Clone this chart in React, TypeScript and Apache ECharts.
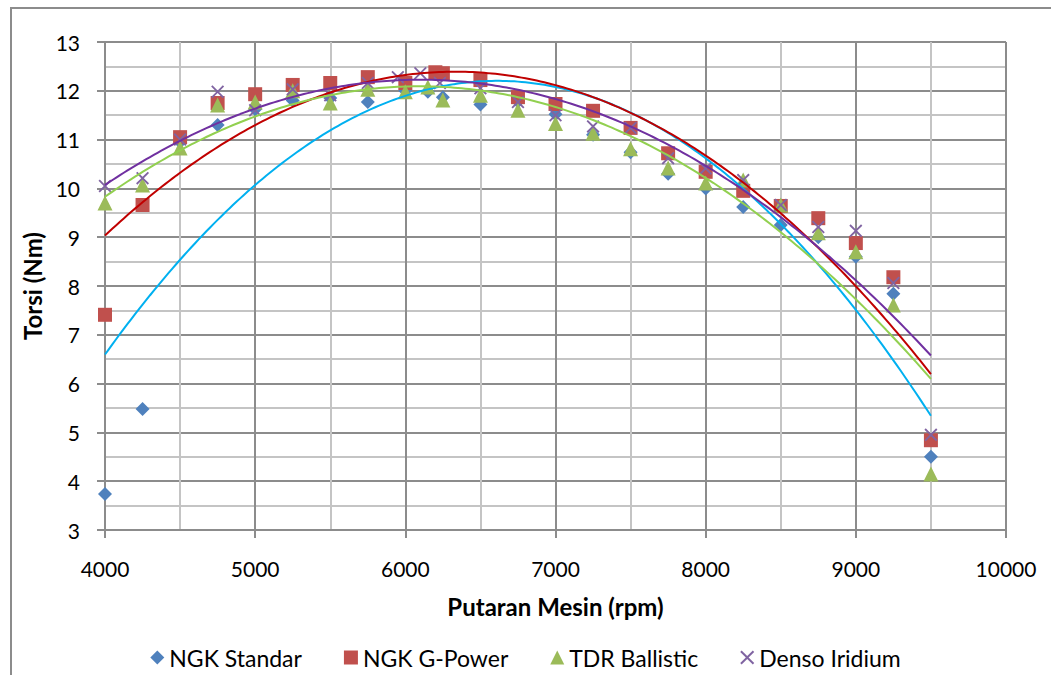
import React, { useEffect, useRef } from "react";
import * as echarts from "echarts";

// ---- Data ----
const rpmStd = [4000, 4250, 4500, 4750, 5000, 5250, 5500, 5750, 6000, 6150, 6250, 6500, 6750, 7000, 7250, 7500, 7750, 8000, 8250, 8500, 8750, 9000, 9250, 9500];
const ngkStandar = [3.74, 5.48, 10.95, 11.3, 11.62, 11.8, 11.85, 11.77, 12.0, 11.98, 11.87, 11.72, 11.78, 11.52, 11.1, 10.74, 10.3, 10.0, 9.62, 9.25, 9.0, 8.6, 7.84, 4.5];

const rpmGPower = [4000, 4250, 4500, 4750, 5000, 5250, 5500, 5750, 6000, 6200, 6250, 6500, 6750, 7000, 7250, 7500, 7750, 8000, 8250, 8500, 8750, 9000, 9250, 9500];
const ngkGPower = [7.41, 9.66, 11.05, 11.75, 11.93, 12.12, 12.16, 12.28, 12.16, 12.38, 12.36, 12.22, 11.87, 11.73, 11.59, 11.24, 10.72, 10.34, 9.95, 9.64, 9.39, 8.88, 8.18, 4.84];

const rpmTdr = [4000, 4250, 4500, 4750, 5000, 5250, 5500, 5750, 6000, 6150, 6250, 6500, 6750, 7000, 7250, 7500, 7750, 8000, 8250, 8500, 8750, 9000, 9250, 9500];
const tdrBallistic = [9.7, 10.07, 10.83, 11.71, 11.77, 12.0, 11.75, 12.03, 11.98, 12.08, 11.81, 11.91, 11.6, 11.33, 11.13, 10.81, 10.42, 10.11, 10.17, 9.66, 9.09, 8.7, 7.61, 4.15];

const rpmDenso = [4000, 4250, 4500, 4750, 5000, 5250, 5500, 5750, 5950, 6100, 6230, 6500, 6750, 7000, 7250, 7500, 7750, 8000, 8250, 8500, 8750, 9000, 9250, 9500];
const densoIridium = [10.05, 10.21, 11.0, 11.98, 11.6, 12.03, 11.91, 12.16, 12.28, 12.36, 12.16, 12.05, 11.77, 11.5, 11.27, 11.24, 10.62, 10.41, 10.17, 9.66, 9.21, 9.13, 8.06, 4.95];

const seriesNames = ["NGK Standar", "NGK G-Power", "TDR Ballistic", "Denso Iridium"];
const xTicks = [4000, 5000, 6000, 7000, 8000, 9000, 10000];
const yTicks = [3, 4, 5, 6, 7, 8, 9, 10, 11, 12, 13];

const markerColors = ["#4F81BD", "#C0504D", "#9BBB59", "#8064A2"];
const trendColors = ["#00B0F0", "#C00000", "#92D050", "#7030A0"];
const crossPath = "path://M0,1 L1,0 L5,4 L9,0 L10,1 L6,5 L10,9 L9,10 L5,6 L1,10 L0,9 L4,5 Z";
const symbols = ["diamond", "rect", "triangle", crossPath];
const symbolSizes = [14, 14, 15, 13];
const legendSymbols = ["diamond", "rect", "triangle", crossPath];

// order-2 polynomial least-squares trend (like Excel's polynomial trendline)
function quadFit(xs: number[], ys: number[]) {
  const n = xs.length;
  let s0 = n, s1 = 0, s2 = 0, s3 = 0, s4 = 0, t0 = 0, t1 = 0, t2 = 0;
  for (let i = 0; i < n; i++) {
    const x = xs[i] / 1000, y = ys[i];
    s1 += x; s2 += x * x; s3 += x * x * x; s4 += x * x * x * x;
    t0 += y; t1 += x * y; t2 += x * x * y;
  }
  const A = [[s0, s1, s2, t0], [s1, s2, s3, t1], [s2, s3, s4, t2]];
  for (let c = 0; c < 3; c++) {
    let p = c;
    for (let r = c + 1; r < 3; r++) if (Math.abs(A[r][c]) > Math.abs(A[p][c])) p = r;
    [A[c], A[p]] = [A[p], A[c]];
    for (let r = 0; r < 3; r++) {
      if (r === c) continue;
      const f = A[r][c] / A[c][c];
      for (let k = c; k < 4; k++) A[r][k] -= f * A[c][k];
    }
  }
  const a = A[0][3] / A[0][0], b = A[1][3] / A[1][1], cc = A[2][3] / A[2][2];
  return (xr: number) => { const x = xr / 1000; return a + b * x + cc * x * x; };
}

function trendPoints(xs: number[], ys: number[]) {
  const f = quadFit(xs, ys);
  const lo = Math.min(...xs), hi = Math.max(...xs);
  const pts: number[][] = [];
  for (let x = lo; x <= hi + 1e-6; x += 25) pts.push([x, f(x)]);
  return pts;
}

export default function App() {
  const ref = useRef<HTMLDivElement>(null);
  useEffect(() => {
    if (!ref.current) return;
    const chart = echarts.init(ref.current, undefined, { renderer: "svg" });
    const xsAll = [rpmStd, rpmGPower, rpmTdr, rpmDenso];
    const ysAll = [ngkStandar, ngkGPower, tdrBallistic, densoIridium];
    const font = "Lato, 'Open Sans', sans-serif";

    const scatterSeries = seriesNames.map((name, i) => ({
      name,
      type: "scatter",
      symbol: symbols[i],
      symbolSize: symbolSizes[i],
      itemStyle: { color: markerColors[i], opacity: 1 },
      data: xsAll[i].map((x, j) => [x, ysAll[i][j]]),
      z: 3,
    }));
    const trendSeries = seriesNames.map((name, i) => ({
      name: name + " trend",
      type: "line",
      showSymbol: false,
      symbol: "none",
      lineStyle: { color: trendColors[i], width: 2 },
      data: trendPoints(xsAll[i], ysAll[i]),
      z: 4,
      silent: true,
    }));

    chart.setOption({
      animation: false,
      backgroundColor: "#ffffff",
      textStyle: { fontFamily: font },
      graphic: [
        {
          type: "rect",
          shape: { x: 11, y: 8, width: 1100, height: 800 },
          style: { fill: "none", stroke: "#8c8c8c", lineWidth: 2 },
          silent: true,
          z: -1,
        },
      ],
      grid: { left: 105, top: 42, right: 45, bottom: 145, containLabel: false },
      legend: {
        data: seriesNames.map((n, i) => ({ name: n, icon: legendSymbols[i] })),
        top: 641,
        left: "center",
        itemWidth: 14,
        itemHeight: 14,
        itemGap: 42,
        textStyle: { fontSize: 23, color: "#000", fontFamily: font },
      },
      xAxis: {
        type: "value",
        min: xTicks[0],
        max: xTicks[xTicks.length - 1],
        interval: 1000,
        name: "Putaran Mesin (rpm)",
        nameLocation: "middle",
        nameGap: 64,
        nameTextStyle: { fontSize: 24, fontWeight: "bold", color: "#000", fontFamily: font },
        axisLine: { show: true, lineStyle: { color: "#8c8c8c", width: 2 } },
        axisTick: { show: true, length: 8, lineStyle: { color: "#8c8c8c", width: 2 } },
        axisLabel: { fontSize: 21, color: "#000", margin: 28, fontFamily: font, formatter: (v: number) => String(v) },
        splitLine: { show: true, lineStyle: { color: "#8c8c8c", width: 2 } },
        minorTick: { show: false, splitNumber: 2 },
        minorSplitLine: { show: true, lineStyle: { color: "#c4c4c4", width: 2 } },
      },
      yAxis: {
        type: "value",
        min: yTicks[0],
        max: yTicks[yTicks.length - 1],
        interval: 1,
        name: "Torsi (Nm)",
        nameLocation: "middle",
        nameGap: 60,
        nameRotate: 90,
        nameTextStyle: { fontSize: 24, fontWeight: "bold", color: "#000", fontFamily: font },
        axisLine: { show: true, lineStyle: { color: "#8c8c8c", width: 2 } },
        axisTick: { show: true, length: 8, lineStyle: { color: "#8c8c8c", width: 2 } },
        axisLabel: { fontSize: 21, color: "#000", margin: 25, fontFamily: font },
        splitLine: { show: true, lineStyle: { color: "#8c8c8c", width: 2 } },
        minorTick: { show: false, splitNumber: 2 },
        minorSplitLine: { show: true, lineStyle: { color: "#c4c4c4", width: 2 } },
      },
      series: [...scatterSeries, ...trendSeries],
    });
    return () => chart.dispose();
  }, []);
  return (
    <div
      ref={ref}
      style={{ position: "fixed", left: 0, top: 0, width: 1051, height: 675, background: "#fff" }}
    />
  );
}
